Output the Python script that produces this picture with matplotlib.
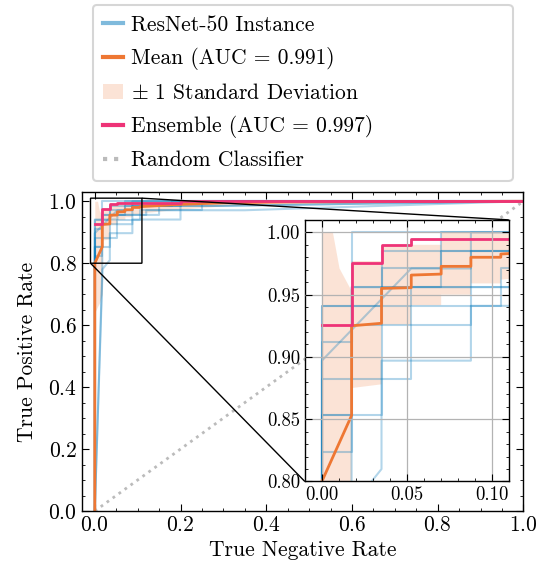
import numpy as np
import matplotlib
matplotlib.use("Agg")
import matplotlib.pyplot as plt
from matplotlib.lines import Line2D
from matplotlib.patches import Patch
from matplotlib.ticker import MultipleLocator

plt.rcParams['font.family'] = 'serif'
plt.rcParams['font.serif'] = ['cmr10', 'DejaVu Serif']
plt.rcParams['mathtext.fontset'] = 'cm'
plt.rcParams['axes.formatter.use_mathtext'] = True
plt.rcParams['font.size'] = 15.5
plt.rcParams['axes.linewidth'] = 1.0

BLUE = '#0077BB'
ORANGE = '#EE7733'
PINK = '#EE3377'
GREY = '#BBBBBB'

# step sizes seen on the fpr axis (one negative sample ~ 1/57)
d1, d2, d3, d4, d5, d6 = 0.0175, 0.0351, 0.0526, 0.0702, 0.0877, 0.1053

# single ResNet-50 runs
inst_fpr = [
    [0, 0, d3, d3, 0.15, 0.15, 0.28, 1.0],
    [0, 0, d2, d2, d4, d4, 1.0],
    [0, 0, d1, d1, d4, d4, 0.20, 0.20, 1.0],
    [0, 0, d1, d1, 1.0],
    [0, d1, d1, 0.12, 0.12, 0.35, 1.0],
    [0, 0, d3, d3, d6, d6, 0.25, 0.25, 1.0],
    [0, 0, d3, d5, d5, 1.0],
    [0, 0, d1, d1, d5, d5, 0.30, 1.0],
    [0, d1, d2, d2, d5, d5, 0.20, 0.20, 1.0],
    [0, 0, d2, d2, d2, d4, d4, 0.18, 0.18, 1.0],
]
inst_tpr = [
    [0, 0.941, 0.941, 0.956, 0.956, 0.985, 0.985, 1.0],
    [0, 0.853, 0.853, 0.985, 0.985, 1.0, 1.0],
    [0, 0.912, 0.912, 0.956, 0.956, 0.985, 0.985, 1.0, 1.0],
    [0, 0.824, 0.824, 1.0, 1.0],
    [0, 0.75, 0.956, 0.956, 0.971, 0.971, 1.0],
    [0, 0.882, 0.882, 0.941, 0.941, 0.971, 0.971, 1.0, 1.0],
    [0, 0.897, 0.971, 0.971, 1.0, 1.0],
    [0, 0.853, 0.853, 0.926, 0.926, 0.985, 0.985, 1.0],
    [0, 0.78, 0.81, 0.897, 0.897, 0.941, 0.941, 1.0, 1.0],
    [0, 0.941, 0.941, 0.956, 0.971, 0.971, 0.985, 0.985, 1.0, 1.0],
]

# mean curve
mean_fpr = [0, 0, d1, d1, d2, d2, d3, d3, d4, d4, d5, d5, d6, d6, 0.15, 0.2, 0.3, 0.45, 1.0]
mean_tpr = [0, 0.800, 0.853, 0.925, 0.927, 0.955, 0.9556, 0.9657, 0.9665, 0.9727,
            0.9727, 0.980, 0.980, 0.9826, 0.986, 0.990, 0.995, 0.998, 1.0]

# +/- 1 std band
band_fpr = [0, 0.0065, 0.0104, d1, d1, d2, d2, d3, d3, d4, d4, d5, d5, d6, d6, 0.15, 0.2, 0.3, 0.5, 1.0]
band_lo = [0.64, 0.66, 0.67, 0.70, 0.875, 0.878, 0.926, 0.926, 0.9415, 0.9415, 0.950, 0.950,
           0.959, 0.959, 0.962, 0.968, 0.975, 0.985, 0.993, 1.0]
band_hi = [1.0, 1.0, 0.971, 0.953, 0.977, 0.977, 0.989, 0.989, 0.990, 0.990, 1.0, 1.0,
           1.0, 1.0, 1.0, 1.0, 1.0, 1.0, 1.0, 1.0]

# ensemble
ens_fpr = [0, d1, d1, d2, d2, d3, d3, 0.2, 0.2, 1.0]
ens_tpr = [0.926, 0.926, 0.975, 0.975, 0.990, 0.990, 0.995, 0.995, 1.0, 1.0]


def draw(a):
    for f, t in zip(inst_fpr, inst_tpr):
        a.plot(f, t, color=BLUE, alpha=0.3, lw=1.5)
    a.fill_between(band_fpr, band_lo, band_hi, color=ORANGE, alpha=0.2, lw=0)
    a.plot([0, 1], [0, 1], ':', color=GREY, lw=2)
    a.plot(mean_fpr, mean_tpr, color=ORANGE, lw=2)
    a.plot(ens_fpr, ens_tpr, color=PINK, lw=2)


fig = plt.figure(figsize=(5.39, 5.7), dpi=100)
ax = fig.add_axes([0.152, 0.1035, 0.819, 0.5597])
draw(ax)
ax.set_xlim(-0.03, 1.0)
ax.set_ylim(0, 1.03)
ax.xaxis.set_major_locator(MultipleLocator(0.2))
ax.yaxis.set_major_locator(MultipleLocator(0.2))
ax.xaxis.set_minor_locator(MultipleLocator(0.05))
ax.yaxis.set_minor_locator(MultipleLocator(0.05))
ax.tick_params(which='both', direction='in', top=True, right=True)
ax.tick_params(which='major', length=5)
ax.tick_params(which='minor', length=2.5)
ax.set_xlabel('True Negative Rate')
ax.set_ylabel('True Positive Rate', labelpad=8)

axins = ax.inset_axes([0.505, 0.0925, 0.462, 0.82])
draw(axins)
axins.set_xlim(-0.01, 0.11)
axins.set_ylim(0.80, 1.01)
axins.xaxis.set_major_locator(MultipleLocator(0.05))
axins.yaxis.set_major_locator(MultipleLocator(0.05))
axins.xaxis.set_minor_locator(MultipleLocator(0.01))
axins.yaxis.set_minor_locator(MultipleLocator(0.01))
axins.xaxis.set_major_formatter('{x:.2f}')
axins.yaxis.set_major_formatter('{x:.2f}')
axins.tick_params(which='both', direction='in', top=True, right=True, labelsize=13.5)
axins.tick_params(which='major', length=5)
axins.tick_params(which='minor', length=2.5)
axins.grid(True, which='major', color='0.7', lw=0.9)
axins.set_axisbelow(False)
ax.indicate_inset_zoom(axins, edgecolor='black', alpha=1, lw=1)

handles = [
    Line2D([], [], color=BLUE, alpha=0.5, lw=3),
    Line2D([], [], color=ORANGE, lw=3),
    Patch(facecolor=ORANGE, alpha=0.2),
    Line2D([], [], color=PINK, lw=3),
    Line2D([], [], color=GREY, lw=3, ls=':'),
]
labels = ['ResNet-50 Instance', 'Mean (AUC = 0.991)', r'$\pm$ 1 Standard Deviation',
          'Ensemble (AUC = 0.997)', 'Random Classifier']
leg = ax.legend(handles, labels, loc='lower left', bbox_to_anchor=(0, 1, 1, 0.5),
                mode='expand', handlelength=0.9, handletextpad=0.4, labelspacing=0.58,
                borderpad=0.5)
leg.get_frame().set_linewidth(1.5)

fig.savefig('out.png', dpi=100)
